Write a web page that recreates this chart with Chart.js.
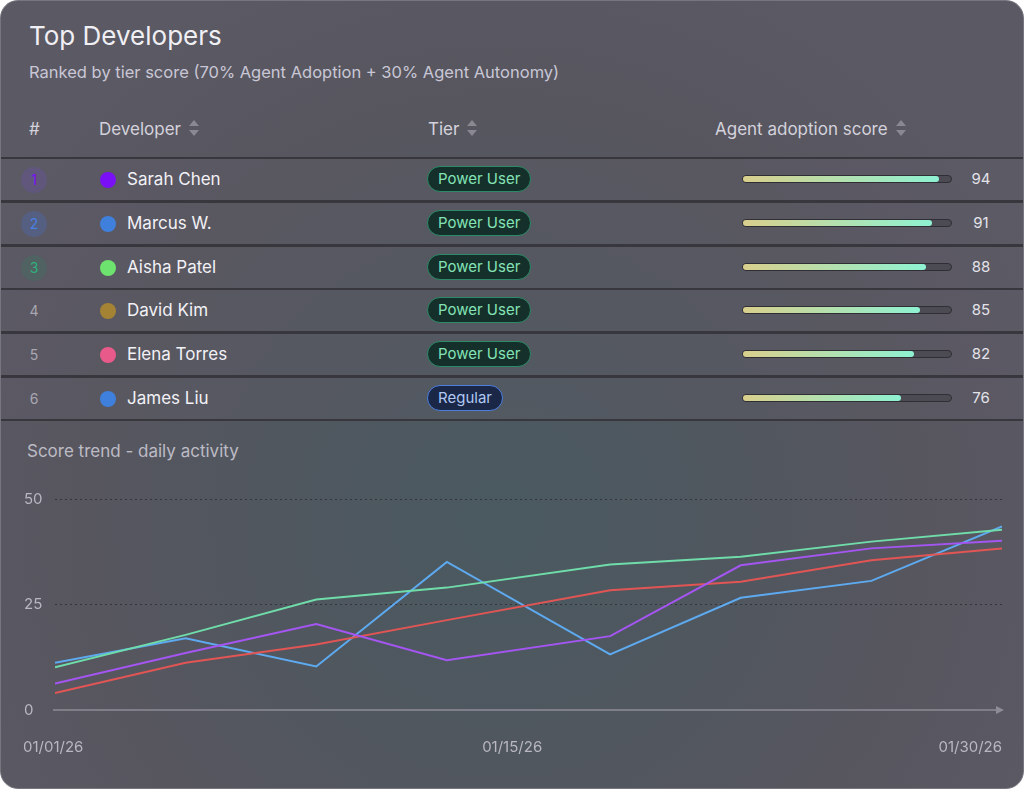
<!DOCTYPE html>
<html><head><meta charset="utf-8">
<script src="https://cdn.jsdelivr.net/npm/chart.js@4"></script>
<style>
body{margin:0;background:#fff;font-family:Inter,"Noto Sans",sans-serif;}
.card{position:absolute;left:0;top:0;width:1022px;height:787px;border:1px solid #77757e;border-radius:18px;overflow:hidden;
background:radial-gradient(circle at 500px 520px,#4a5a60 0,#4f575f 200px,#57565f 420px,#5b5963 600px);color:#f0eff4;}
.title{position:absolute;left:28px;top:19px;font-size:26px;font-weight:400;}
.sub{position:absolute;left:28px;top:61px;font-size:16.5px;color:#c9c7d6;}
.hd{position:absolute;top:118px;font-size:17px;color:#d4d2dc;}
.sort{display:inline-block;vertical-align:middle;margin-left:8px;width:10px;height:16px;position:relative;top:-2px}
.sort:before,.sort:after{content:"";position:absolute;left:0;border-left:5px solid transparent;border-right:5px solid transparent}
.sort:before{top:0;border-bottom:6px solid #8a8892}.sort:after{bottom:0;border-top:6px solid #8a8892}
.row{position:absolute;left:-2px;width:1026px;height:41px;border:2px solid #38373d;background:rgba(95,93,103,.35);}
.rank{position:absolute;left:20px;top:8px;width:26px;height:26px;border-radius:13px;text-align:center;line-height:26px;font-size:14px;color:#a9a7b2}
.dot{position:absolute;left:99px;top:13px;width:16px;height:16px;border-radius:8px}
.name{position:absolute;left:126px;top:10px;font-size:17px;color:#f2f1f6}
.badge{position:absolute;left:426px;top:7px;height:24px;padding:0 10px;border-radius:13px;font-size:15px;line-height:24px}
.pu{background:#15302a;border:1.5px solid #2c8a66;color:#84e3b6}
.rg{background:#1a2746;border:1.5px solid #4a7fe0;color:#b0c8f4}
.track{position:absolute;left:741px;top:16px;width:208px;height:6px;border:1.5px solid #2f2e34;border-radius:5px;background:#4c4b53}
.fill{height:100%;border-radius:4px;background:linear-gradient(90deg,#d9cf8c,#8ef2d2)}
.val{position:absolute;left:962px;width:36px;text-align:center;top:10px;font-size:15px;color:#e4e3ea}
.sec{position:absolute;left:26px;top:440px;font-size:17px;color:#bdbbc5}
#wrap{position:absolute;left:0;top:470px;width:1024px;height:300px}
</style></head><body>
<div class="card" id="card">
<div class="title">Top Developers</div>
<div class="sub">Ranked by tier score (70% Agent Adoption + 30% Agent Autonomy)</div>
<div class="hd" style="left:28px">#</div>
<div class="hd" style="left:98px">Developer<span class="sort"></span></div>
<div class="hd" style="left:427px">Tier<span class="sort"></span></div>
<div class="hd" style="left:714px">Agent adoption score<span class="sort"></span></div>
<div class="sec">Score trend - daily activity</div>
<div id="wrap"><canvas id="trend"></canvas></div>
</div>
<script>
// Table data
var developers = ['Sarah Chen', 'Marcus W.', 'Aisha Patel', 'David Kim', 'Elena Torres', 'James Liu'];
var dotColors = ['#7a10f5', '#3f80dc', '#6ee26e', '#a48434', '#e85a8a', '#3f80dc'];
var tiers = ['Power User', 'Power User', 'Power User', 'Power User', 'Power User', 'Regular'];
var adoptionScores = [94, 91, 88, 85, 82, 76];
var rankStyles = [['#7a10f5', 'rgba(110,80,200,.25)'], ['#4a80e0', 'rgba(70,110,200,.3)'], ['#2fb07a', 'rgba(60,120,100,.3)']];

// Trend data
var trendDays = [1, 5, 9, 13, 18, 22, 26, 30];
var tickDays = [1, 15, 30];
var tickLabels = ['01/01/26', '01/15/26', '01/30/26'];
var yTicks = [0, 25, 50];
var greenSeries = [10.1, 17.8, 26.2, 29.0, 34.5, 36.3, 39.9, 42.7];
var purpleSeries = [6.3, 13.5, 20.4, 11.8, 17.5, 34.3, 38.3, 40.1];
var redSeries = [4.0, 11.2, 15.5, 21.3, 28.4, 30.4, 35.5, 38.3];
var blueSeries = [11.2, 17.0, 10.3, 35.1, 13.2, 26.6, 30.6, 43.5];

var card = document.getElementById('card');
developers.forEach(function (name, i) {
    var r = document.createElement('div');
    r.className = 'row';
    r.style.top = (156 + i * 43.8) + 'px';
    var rs = rankStyles[i];
    r.innerHTML = '<div class="rank" style="' + (rs ? 'color:' + rs[0] + ';background:' + rs[1] : '') + '">' + (i + 1) + '</div>' +
        '<div class="dot" style="background:' + dotColors[i] + '"></div>' +
        '<div class="name">' + name + '</div>' +
        '<div class="badge ' + (tiers[i] == 'Regular' ? 'rg' : 'pu') + '">' + tiers[i] + '</div>' +
        '<div class="track"><div class="fill" style="width:' + adoptionScores[i] + '%"></div></div>' +
        '<div class="val">' + adoptionScores[i] + '</div>';
    card.appendChild(r);
});

function pts(vals) {
    return vals.map(function (v, i) { return { x: trendDays[i], y: v }; });
}
function line(vals, color) {
    return { data: pts(vals), borderColor: color, borderWidth: 2, pointRadius: 0, tension: 0, fill: false };
}

// custom labels + arrow axis
var axisPlugin = {
    id: 'axisPlugin',
    afterDraw: function (chart) {
        var c = chart.ctx, xs = chart.scales.x, ys = chart.scales.y;
        var y0 = ys.getPixelForValue(0), L = chart.chartArea.left, R = chart.chartArea.right;
        c.save();
        c.strokeStyle = '#8e8c96'; c.lineWidth = 1.5;
        c.beginPath(); c.moveTo(L - 2, y0); c.lineTo(R, y0); c.stroke();
        c.fillStyle = '#8e8c96';
        c.beginPath(); c.moveTo(R + 2, y0); c.lineTo(R - 6, y0 - 4); c.lineTo(R - 6, y0 + 4); c.fill();
        c.font = '15px Inter'; c.fillStyle = '#b9b7c1'; c.textBaseline = 'middle';
        c.textAlign = 'left';
        yTicks.forEach(function (t) { c.fillText(String(t), 23, ys.getPixelForValue(t)); });
        tickDays.forEach(function (d, i) {
            c.textAlign = i == 0 ? 'left' : (i == tickDays.length - 1 ? 'right' : 'center');
            var px = xs.getPixelForValue(d);
            if (i == 0) px = 22;
            c.fillText(tickLabels[i], px, y0 + 37);
        });
        c.restore();
    }
};

var ctx = document.getElementById('trend').getContext('2d');
new Chart(ctx, {
    type: 'line',
    data: { datasets: [line(greenSeries, '#6fdcaa'), line(purpleSeries, '#a455f2'), line(redSeries, '#e25555'), line(blueSeries, '#5eaaf0')] },
    options: {
        responsive: true, maintainAspectRatio: false, animation: false,
        layout: { padding: { left: 54, right: 23, top: 28, bottom: 53 } },
        plugins: { legend: { display: false }, tooltip: { enabled: false } },
        scales: {
            x: { type: 'linear', min: 1, max: 30, ticks: { display: false }, grid: { display: false }, border: { display: false } },
            y: {
                min: 0, max: 50, ticks: { display: false, stepSize: 25 }, border: { display: false, dash: [2, 3] },
                grid: { color: function (c) { return c.tick.value == 0 ? 'transparent' : '#35343a'; }, drawTicks: false }
            }
        }
    },
    plugins: [axisPlugin]
});
</script>
</body></html>
